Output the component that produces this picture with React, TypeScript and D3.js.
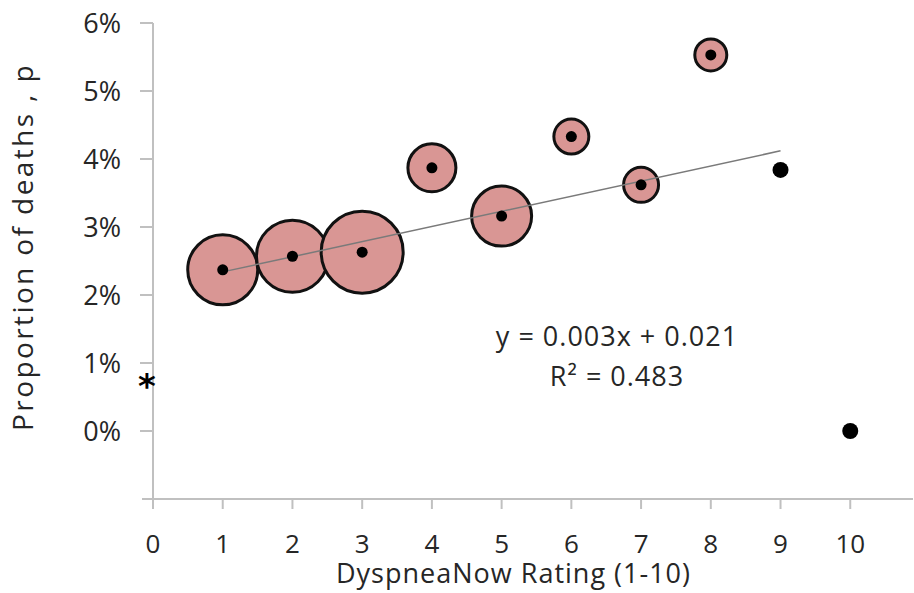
import React from "react";
import * as d3 from "d3";

const ratings = [1, 2, 3, 4, 5, 6, 7, 8];
const proportions = [0.0237, 0.0257, 0.0263, 0.0387, 0.0316, 0.0433, 0.0362, 0.0553];
const bubbleSizes = [1225, 1296, 1681, 576, 900, 306, 306, 256];
const soloRatings = [9, 10];
const soloProportions = [0.0384, 0.0];
const asteriskRating = [0];
const asteriskProportion = [0.0068];
const trendX = [1, 9];
const trendY = [0.0234, 0.0412];
const xTicks = [0, 1, 2, 3, 4, 5, 6, 7, 8, 9, 10];
const yTicks = [0, 0.01, 0.02, 0.03, 0.04, 0.05, 0.06];
const equationLines = ["y = 0.003x + 0.021", "R² = 0.483"];

const W = 914;
const H = 593;
const FONT = "'Open Sans', 'Noto Sans', sans-serif";

export default function App() {
  const x = d3.scaleLinear().domain([0, 10.9]).range([153, 913]);
  const y = d3.scaleLinear().domain([-0.01, 0.06]).range([499, 23]);
  const r = d3.scaleSqrt().domain([0, d3.max(bubbleSizes) as number]).range([0, 41]);
  const line = d3
    .line<number>()
    .x((_, i) => x(trendX[i]))
    .y((d) => y(d));
  const axisColor = "#c0c0c0";
  const textColor = "#262626";

  return (
    <svg
      width={W}
      height={H}
      style={{ position: "absolute", left: 0, top: 0, background: "#fff" }}
    >
      {/* axes */}
      <line x1={142} x2={x(10.9)} y1={y(-0.01)} y2={y(-0.01)} stroke={axisColor} strokeWidth={2} />
      <line x1={x(0)} x2={x(0)} y1={y(0.06)} y2={y(-0.01) + 10} stroke={axisColor} strokeWidth={2} />
      {yTicks.map((t) => (
        <g key={"y" + t}>
          <line x1={x(0) - 13} x2={x(0)} y1={y(t)} y2={y(t)} stroke={axisColor} strokeWidth={2} />
          <text
            x={121}
            y={y(t)}
            dy="0.36em"
            textAnchor="end"
            fontFamily={FONT}
            fontSize={27}
            fill={textColor}
          >
            {d3.format(".0%")(t)}
          </text>
        </g>
      ))}
      {xTicks.map((t) => (
        <g key={"x" + t}>
          <line x1={x(t)} x2={x(t)} y1={y(-0.01)} y2={y(-0.01) + 10} stroke={axisColor} strokeWidth={2} />
          <text
            x={x(t)}
            y={553}
            textAnchor="middle"
            fontFamily={FONT}
            fontSize={26}
            fill={textColor}
          >
            {t}
          </text>
        </g>
      ))}
      <text
        x={(335 + 692) / 2}
        y={583}
        textAnchor="middle"
        fontFamily={FONT}
        fontSize={27}
        letterSpacing={1}
        fill={textColor}
      >
        DyspneaNow Rating (1-10)
      </text>
      <text
        transform={`translate(33, 247) rotate(-90)`}
        textAnchor="middle"
        fontFamily={FONT}
        fontSize={28}
        letterSpacing={2.4}
        fill={textColor}
      >
        Proportion of deaths , p
      </text>

      {/* bubbles */}
      {ratings.map((d, i) => (
        <circle
          key={"b" + d}
          cx={x(d)}
          cy={y(proportions[i])}
          r={r(bubbleSizes[i])}
          fill="#d99694"
          stroke="#111"
          strokeWidth={3}
        />
      ))}

      {/* trend line */}
      <path d={line(trendY) || ""} fill="none" stroke="#7a7a7a" strokeWidth={1.5} />

      {/* center dots */}
      {ratings.map((d, i) => (
        <circle key={"d" + d} cx={x(d)} cy={y(proportions[i])} r={5.5} fill="#000" />
      ))}
      {soloRatings.map((d, i) => (
        <circle key={"s" + d} cx={x(d)} cy={y(soloProportions[i])} r={8} fill="#000" />
      ))}
      {asteriskRating.map((d, i) => (
        <text
          key={"a" + d}
          x={x(d) - 6}
          y={y(asteriskProportion[i])}
          dy="0.4em"
          textAnchor="middle"
          fontFamily="'DejaVu Sans', sans-serif"
          fontWeight="bold"
          fontSize={34}
          fill="#000"
        >
          *
        </text>
      ))}

      {/* equation */}
      {equationLines.map((l, i) => (
        <text
          key={"e" + i}
          x={617}
          y={346 + i * 40}
          textAnchor="middle"
          fontFamily={FONT}
          fontSize={27}
          letterSpacing={1}
          fill={textColor}
        >
          {l}
        </text>
      ))}
    </svg>
  );
}
